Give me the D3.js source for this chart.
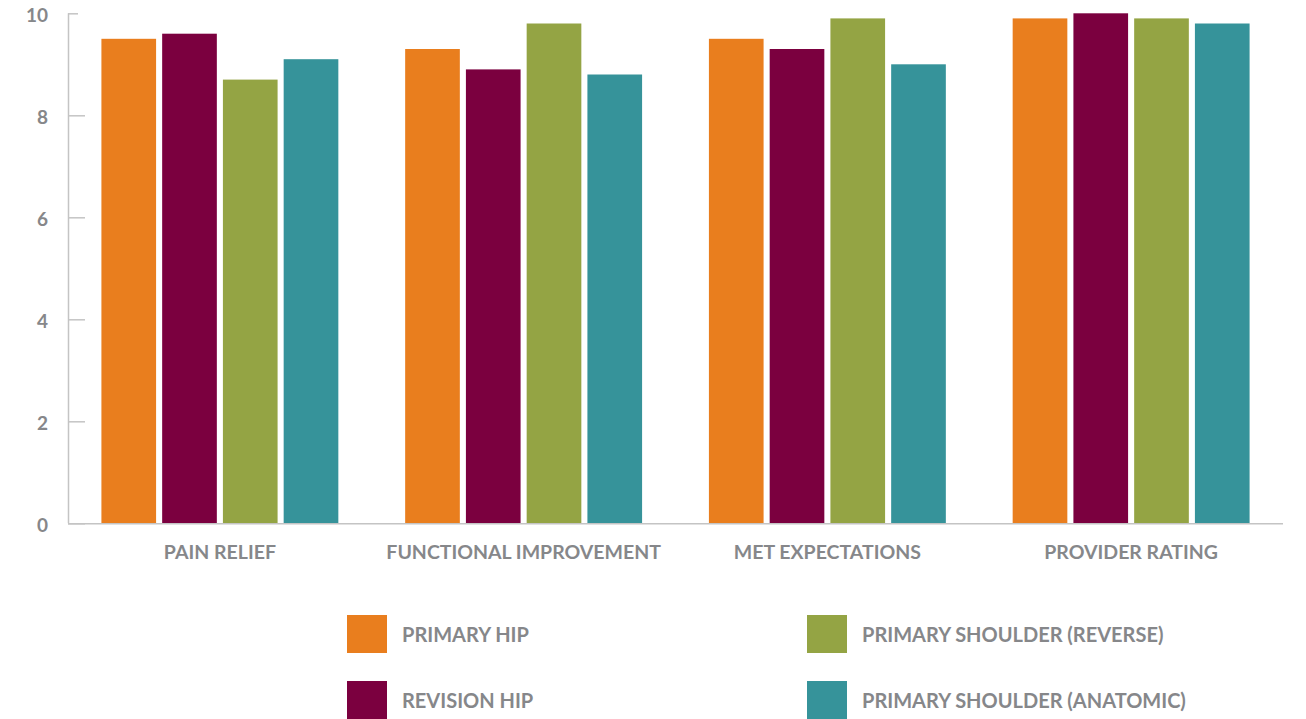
<!DOCTYPE html>
<html>
<head>
<meta charset="utf-8">
<script src="https://cdn.jsdelivr.net/npm/d3@7/dist/d3.min.js"></script>
<style>
  html, body { margin: 0; padding: 0; background: #fff; }
  svg { display: block; }
  text { font-family: Lato, "Open Sans", sans-serif; font-weight: 700; fill: #86878a; }
</style>
</head>
<body>
<svg id="chart" width="1306" height="719"></svg>
<script>
// Outcome categories along the x axis
const categories = ["PAIN RELIEF", "FUNCTIONAL IMPROVEMENT", "MET EXPECTATIONS", "PROVIDER RATING"];

// Patient groups (one bar per group inside each category)
const seriesNames = ["PRIMARY HIP", "REVISION HIP", "PRIMARY SHOULDER (REVERSE)", "PRIMARY SHOULDER (ANATOMIC)"];
const seriesColors = ["#E97E1E", "#7B003F", "#94A444", "#36939A"];

// Scores per group, in category order
const primaryHip      = [9.5, 9.3, 9.5, 9.9];
const revisionHip     = [9.6, 8.9, 9.3, 10.0];
const shoulderReverse = [8.7, 9.8, 9.9, 9.9];
const shoulderAnatomic = [9.1, 8.8, 9.0, 9.8];

const yTicks = [0, 2, 4, 6, 8, 10];

const seriesValues = [primaryHip, revisionHip, shoulderReverse, shoulderAnatomic];

const svg = d3.select("#chart");
const plot = { left: 68, right: 1283, top: 13.3, bottom: 523.3 };

const x0 = d3.scaleBand()
  .domain(categories)
  .range([plot.left, plot.right])
  .paddingInner(0.22)
  .paddingOuter(0.11);

const x1 = d3.scaleBand()
  .domain(seriesNames)
  .range([0, x0.bandwidth()])
  .paddingInner(0.1)
  .paddingOuter(0);

const y = d3.scaleLinear().domain([0, 10]).range([plot.bottom, plot.top]);

// Bars
const groups = svg.append("g")
  .selectAll("g")
  .data(categories)
  .join("g")
  .attr("transform", d => `translate(${x0(d)},0)`);

groups.selectAll("rect")
  .data((c, ci) => seriesNames.map((s, si) => ({ series: s, color: seriesColors[si], value: seriesValues[si][ci] })))
  .join("rect")
  .attr("x", d => x1(d.series))
  .attr("width", x1.bandwidth())
  .attr("y", d => y(d.value))
  .attr("height", d => y(0) - y(d.value))
  .attr("fill", d => d.color);

// Y axis: ticks point inward toward the bars
const yAxis = svg.append("g")
  .attr("transform", `translate(${plot.left},0)`)
  .call(d3.axisRight(y).tickValues(yTicks).tickSize(17).tickFormat(d3.format("d")));
yAxis.select(".domain").attr("stroke", "#c4c4c4").attr("stroke-width", 1.5).attr("d", `M0.5,${plot.top}V${plot.bottom}`);
yAxis.selectAll(".tick line").attr("stroke", "#c4c4c4").attr("stroke-width", 1.5);
yAxis.selectAll(".tick").filter(d => d === 10).select("line").attr("x2", 10);
yAxis.selectAll(".tick text")
  .attr("x", -20)
  .attr("dy", "0.65em")
  .attr("y", -4)
  .attr("text-anchor", "end")
  .style("font-size", "19px")
  .style("fill", "#86878a");

// X axis baseline and category labels
const xAxis = svg.append("g")
  .attr("transform", `translate(0,${plot.bottom})`)
  .call(d3.axisBottom(x0).tickSize(0).tickPadding(0));
xAxis.select(".domain").attr("stroke", "#c4c4c4").attr("stroke-width", 1.5)
  .attr("d", `M${plot.left},0.5H${plot.right}`);
xAxis.selectAll(".tick text")
  .attr("y", 35.5)
  .attr("dy", 0)
  .style("font-size", "19.5px")
  .style("fill", "#86878a");

// Legend: two columns, two rows
const legend = svg.append("g");
const legendCols = [347, 807];
const legendRows = [615, 681];
const items = legend.selectAll("g")
  .data(seriesNames)
  .join("g")
  .attr("transform", (d, i) => `translate(${legendCols[Math.floor(i / 2)]},${legendRows[i % 2]})`);
items.append("rect")
  .attr("width", 40)
  .attr("height", 38)
  .attr("fill", (d, i) => seriesColors[i]);
items.append("text")
  .attr("x", 55)
  .attr("y", 20)
  .attr("dy", "0.36em")
  .style("font-size", "20px")
  .text(d => d);
</script>
</body>
</html>
